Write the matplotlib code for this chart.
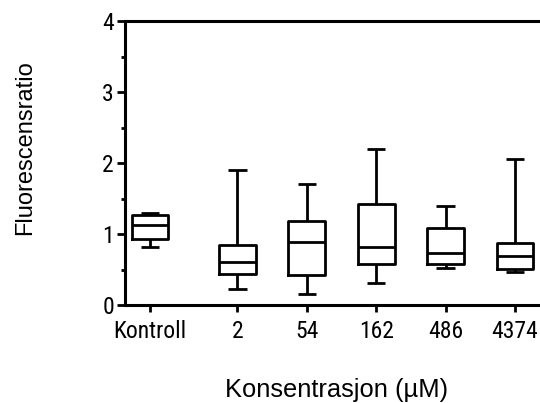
import matplotlib
matplotlib.use("Agg")
import matplotlib.pyplot as plt
from matplotlib.ticker import MultipleLocator

# Five-number summaries per group
groups = ["Kontroll", "2", "54", "162", "486", "4374"]
whisker_low = [0.81, 0.22, 0.15, 0.31, 0.52, 0.47]
q1 = [0.93, 0.44, 0.42, 0.58, 0.58, 0.51]
median = [1.13, 0.61, 0.89, 0.82, 0.73, 0.69]
q3 = [1.27, 0.84, 1.19, 1.42, 1.09, 0.87]
whisker_high = [1.29, 1.90, 1.70, 2.20, 1.39, 2.05]

y_ticks = [0, 1, 2, 3, 4]

# Control group sits a little apart from the concentration series
positions = [-0.26, 1, 2, 3, 4, 5]

tick_font = ["Roboto Condensed", "DejaVu Sans"]
label_font = ["Liberation Sans", "DejaVu Sans"]
lw = 2.0

stats = [
    dict(label=g, whislo=lo, q1=a, med=m, q3=b, whishi=hi, fliers=[])
    for g, lo, a, m, b, hi in zip(groups, whisker_low, q1, median, q3, whisker_high)
]

fig = plt.figure(figsize=(5.4, 4.03), dpi=100)
ax = fig.add_axes([125 / 540, 98 / 403, (540 - 125) / 540, (305 - 21) / 403])

line = dict(color="black", linewidth=lw, solid_capstyle="butt")
ax.bxp(stats, positions=positions, widths=0.53, showfliers=False,
       boxprops=dict(color="black", linewidth=lw),
       whiskerprops=line, capprops=line,
       medianprops=dict(color="black", linewidth=lw))

ax.set_xlim(-0.62, 5.36)
ax.set_ylim(0, 4)
ax.set_yticks(y_ticks)
ax.yaxis.set_minor_locator(MultipleLocator(0.5))
ax.set_xticks(positions)
ax.set_xticklabels(groups)

for side in ("left", "bottom", "top"):
    ax.spines[side].set_linewidth(2.2)
ax.spines["right"].set_visible(False)

ax.tick_params(axis="y", which="major", length=6, width=2, pad=2, direction="out")
ax.tick_params(axis="y", which="minor", length=3, width=2, direction="out")
ax.tick_params(axis="x", which="major", length=5, width=2, pad=5.5, direction="out")
ax.tick_params(top=False, right=False)

for lab in ax.get_xticklabels() + ax.get_yticklabels():
    lab.set_fontfamily(tick_font)
    lab.set_fontsize(17)

fig.text(336.5 / 540, (403 - 396.7) / 403, "Konsentrasjon (µM)",
         family=label_font, fontsize=18.4, ha="center", va="baseline")
fig.text(31 / 540, 1 - 148 / 403, "Fluorescensratio",
         family=label_font, fontsize=17, ha="center", va="baseline",
         rotation=90, rotation_mode="anchor")

fig.savefig("out.png", dpi=100)
